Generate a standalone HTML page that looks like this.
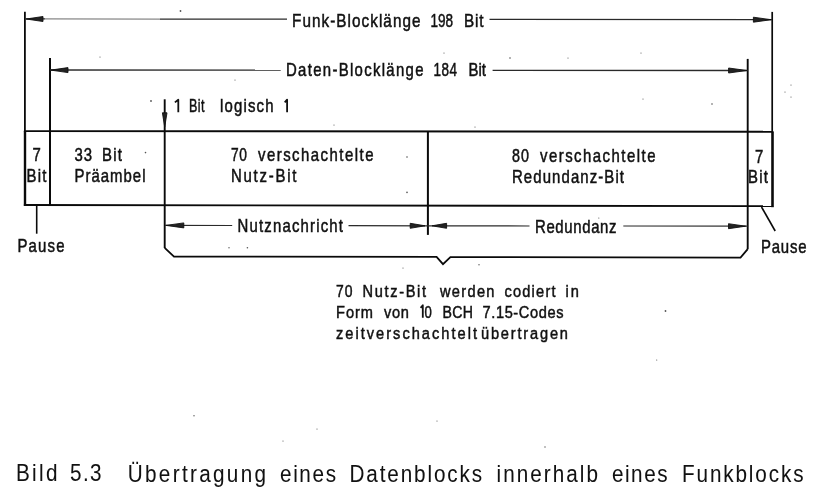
<!DOCTYPE html>
<html><head><meta charset="utf-8">
<style>
html,body{margin:0;padding:0;background:#fff;width:816px;height:492px;overflow:hidden}
svg{display:block;will-change:transform}
text{font-family:"Liberation Sans",sans-serif;fill:#111;stroke:#111;stroke-width:0.5}
text.cap{stroke-width:0.05}
</style></head>
<body>
<svg width="816" height="492" viewBox="0 0 816 492">
<rect width="816" height="492" fill="#fff"/>
<g stroke="#0a0a0a" fill="none" stroke-linecap="butt">
  <line x1="24.9" y1="11.7" x2="24.9" y2="131.5" stroke-width="1.8"/>
  <line x1="25.0" y1="131" x2="25.0" y2="206" stroke-width="2.4"/>
  <line x1="772.2" y1="11.9" x2="772.2" y2="132" stroke-width="1.7"/>
  <line x1="772.5" y1="131.5" x2="772.5" y2="207.2" stroke-width="2.6"/>
  <line x1="50" y1="58" x2="50" y2="205.8" stroke-width="2"/>
  <line x1="747.7" y1="58.9" x2="747.7" y2="249.2" stroke-width="1.9"/>
  <line x1="164.7" y1="99.3" x2="164.7" y2="248" stroke-width="1.9"/>
  <line x1="427.9" y1="131" x2="427.9" y2="234.9" stroke-width="2"/>
  <line x1="23.9" y1="131.1" x2="773.2" y2="131.7" stroke-width="1.9"/>
  <line x1="23.9" y1="205.0" x2="773.2" y2="206.1" stroke-width="1.9"/>
  <polyline points="164.7,247.8 174,256.6 436.6,256.9 443,264.2 450.4,257.1 740.5,257.6 747.7,249.2" stroke-width="1.8" stroke-linejoin="miter"/>
  <line x1="36.7" y1="205" x2="36.7" y2="233.7" stroke-width="1.6"/>
  <line x1="761.5" y1="207" x2="775.2" y2="231" stroke-width="1.6"/>
</g>
<g stroke="#2a2a2a" fill="none">
  <line x1="25" y1="18.9" x2="45" y2="18.95" stroke-width="1.3"/>
  <line x1="45" y1="18.95" x2="160" y2="19.05" stroke-width="1.3" stroke="#888"/>
  <line x1="160" y1="19.05" x2="287" y2="19.2" stroke-width="1.3"/>
  <line x1="489.5" y1="19.4" x2="772" y2="19.7" stroke-width="1.3"/>
  <line x1="50" y1="70.0" x2="280.7" y2="70.2" stroke-width="1.3"/>
  <line x1="492.6" y1="70.3" x2="747.6" y2="70.5" stroke-width="1.3"/>
  <line x1="165" y1="225.4" x2="232.2" y2="225.5" stroke-width="1.2"/>
  <line x1="348.5" y1="225.7" x2="427.9" y2="225.8" stroke-width="1.2"/>
  <line x1="427.9" y1="225.8" x2="529.5" y2="226" stroke-width="1.2"/>
  <line x1="623.3" y1="226" x2="747.6" y2="226.2" stroke-width="1.2"/>
</g>
<g fill="#222" stroke="#111" stroke-width="0.9" stroke-linejoin="round">
  <polygon points="26.2,19.0 43.0,16.5 43.0,21.5"/>
  <polygon points="771.2,19.7 753.4,17.2 753.4,22.2"/>
  <polygon points="50.8,70.1 68.0,67.6 68.0,72.6"/>
  <polygon points="746.8,70.5 728.6,68.0 728.6,73.0"/>
  <polygon points="164.7,127.0 162.39999999999998,112.8 167.0,112.8"/>
  <polygon points="166.0,225.4 183.8,222.9 183.8,227.9"/>
  <polygon points="425.0,225.8 410.2,223.3 410.2,228.3"/>
  <polygon points="432.0,225.8 446.6,223.3 446.6,228.3"/>
  <polygon points="745.6,226.2 728.5,223.7 728.5,228.7"/>
</g>

<g fill="#555">
  <circle cx="180.5" cy="11" r="0.9"/>
  <circle cx="100" cy="57" r="0.6"/>
  <circle cx="235" cy="80" r="0.6"/>
  <circle cx="151" cy="101" r="0.9"/>
  <circle cx="510" cy="58" r="0.8"/>
  <circle cx="444" cy="53" r="0.6"/>
  <circle cx="334" cy="125" r="0.6"/>
  <circle cx="475" cy="127" r="0.6"/>
  <circle cx="568" cy="58" r="0.6"/>
  <circle cx="641" cy="53" r="0.6"/>
  <circle cx="643" cy="99" r="0.6"/>
  <circle cx="712" cy="104" r="0.8"/>
  <circle cx="791" cy="85" r="0.6"/>
  <circle cx="785" cy="92" r="0.6"/>
  <circle cx="791" cy="97" r="0.6"/>
  <circle cx="145.5" cy="152.6" r="0.8"/>
  <circle cx="407" cy="157" r="0.8"/>
  <circle cx="407" cy="192.4" r="0.8"/>
  <circle cx="229" cy="247.8" r="0.7"/>
  <circle cx="247.4" cy="247.8" r="0.8"/>
  <circle cx="403" cy="268" r="0.6"/>
  <circle cx="479" cy="264.7" r="0.7"/>
  <circle cx="598.8" cy="218" r="0.6"/>
  <circle cx="665.5" cy="311" r="0.9"/>
  <circle cx="656.7" cy="360" r="0.6"/>
  <circle cx="194" cy="415.7" r="0.7"/>
  <circle cx="437" cy="421" r="0.6"/>
  <circle cx="317" cy="429" r="0.6"/>
  <circle cx="283" cy="441" r="0.6"/>
  <circle cx="545" cy="447" r="0.7"/>
</g>

<g>
  <text transform="translate(292.00,26.6) scale(0.840,1)" font-size="18.2" textLength="152.98" lengthAdjust="spacing">Funk-Blocklänge</text>
  <text transform="translate(430.50,26.6) scale(0.744,1)" font-size="18.2" textLength="30.26" lengthAdjust="spacing">198</text>
  <text transform="translate(464.00,26.7) scale(0.840,1)" font-size="18.2" textLength="23.21" lengthAdjust="spacing">Bit</text>
  <text transform="translate(286.00,75.6) scale(0.840,1)" font-size="17.8" textLength="163.69" lengthAdjust="spacing">Daten-Blocklänge</text>
  <text transform="translate(433.50,75.6) scale(0.757,1)" font-size="17.8" textLength="31.04" lengthAdjust="spacing">184</text>
  <text transform="translate(468.50,75.6) scale(0.840,1)" font-size="17.8" textLength="20.83" lengthAdjust="spacing">Bit</text>
  <path d="M174.9,102.4 L178.3,99.7 L178.3,112.2" fill="none" stroke="#111" stroke-width="1.8" stroke-linejoin="round"/>
  <text transform="translate(189.00,112.0) scale(0.705,1)" font-size="17.8" textLength="22.00" lengthAdjust="spacing">Bit</text>
  <text transform="translate(220.00,112.0) scale(0.840,1)" font-size="17.8" textLength="63.69" lengthAdjust="spacing">logisch</text>
  <path d="M284.7,102.4 L287.1,99.7 L287.1,112.2" fill="none" stroke="#111" stroke-width="1.8" stroke-linejoin="round"/>
  <text transform="translate(32.50,160.9) scale(0.840,1)" font-size="17.8">7</text>
  <text transform="translate(26.50,182.0) scale(0.840,1)" font-size="17.8" textLength="23.81" lengthAdjust="spacing">Bit</text>
  <text transform="translate(74.50,160.9) scale(0.840,1)" font-size="17.8" textLength="20.83" lengthAdjust="spacing">33</text>
  <text transform="translate(102.00,160.9) scale(0.840,1)" font-size="17.8" textLength="23.81" lengthAdjust="spacing">Bit</text>
  <text transform="translate(74.50,182.0) scale(0.840,1)" font-size="17.8" textLength="84.52" lengthAdjust="spacing">Präambel</text>
  <text transform="translate(231.00,160.9) scale(0.774,1)" font-size="17.8" textLength="20.67" lengthAdjust="spacing">70</text>
  <text transform="translate(258.00,160.9) scale(0.840,1)" font-size="17.8" textLength="137.50" lengthAdjust="spacing">verschachtelte</text>
  <text transform="translate(231.00,182.0) scale(0.840,1)" font-size="17.8" textLength="77.98" lengthAdjust="spacing">Nutz-Bit</text>
  <text transform="translate(512.00,162.0) scale(0.805,1)" font-size="17.8" textLength="21.13" lengthAdjust="spacing">80</text>
  <text transform="translate(540.00,162.0) scale(0.840,1)" font-size="17.8" textLength="137.50" lengthAdjust="spacing">verschachtelte</text>
  <text transform="translate(512.00,183.2) scale(0.840,1)" font-size="17.8" textLength="133.33" lengthAdjust="spacing">Redundanz-Bit</text>
  <text transform="translate(755.00,162.5) scale(0.840,1)" font-size="17.8">7</text>
  <text transform="translate(748.00,183.4) scale(0.840,1)" font-size="17.8" textLength="23.81" lengthAdjust="spacing">Bit</text>
  <text transform="translate(237.50,231.9) scale(0.840,1)" font-size="17.8" textLength="125.60" lengthAdjust="spacing">Nutznachricht</text>
  <text transform="translate(535.00,232.7) scale(0.840,1)" font-size="17.8" textLength="97.02" lengthAdjust="spacing">Redundanz</text>
  <text transform="translate(17.50,251.9) scale(0.840,1)" font-size="17.8" textLength="55.95" lengthAdjust="spacing">Pause</text>
  <text transform="translate(761.00,252.7) scale(0.840,1)" font-size="17.8" textLength="54.17" lengthAdjust="spacing">Pause</text>
  <text transform="translate(336.00,296.5) scale(0.800,1)" font-size="17.4" textLength="20.64" lengthAdjust="spacing">70</text>
  <text transform="translate(362.50,296.5) scale(0.840,1)" font-size="17.4" textLength="75.60" lengthAdjust="spacing">Nutz-Bit</text>
  <text transform="translate(440.00,296.5) scale(0.840,1)" font-size="17.4" textLength="64.88" lengthAdjust="spacing">werden</text>
  <text transform="translate(504.50,296.5) scale(0.840,1)" font-size="17.4" textLength="60.71" lengthAdjust="spacing">codiert</text>
  <text transform="translate(565.50,296.5) scale(0.840,1)" font-size="17.4" textLength="16.07" lengthAdjust="spacing">in</text>
  <text transform="translate(336.00,317.5) scale(0.840,1)" font-size="17.4" textLength="44.05" lengthAdjust="spacing">Form</text>
  <text transform="translate(384.00,317.5) scale(0.840,1)" font-size="17.4" textLength="29.76" lengthAdjust="spacing">von</text>
  <path d="M420.6,307.9 L422.8,305.2 L422.8,317.7" fill="none" stroke="#111" stroke-width="1.8" stroke-linejoin="round"/>
  <text transform="translate(424.50,317.5) scale(0.754,1)" font-size="17.4">0</text>
  <text transform="translate(442.50,317.5) scale(0.812,1)" font-size="17.4" textLength="37.56" lengthAdjust="spacing">BCH</text>
  <text transform="translate(482.50,317.5) scale(0.840,1)" font-size="17.4" textLength="96.43" lengthAdjust="spacing">7.15-Codes</text>
  <text transform="translate(336.00,338.8) scale(0.840,1)" font-size="17.4" textLength="167.86" lengthAdjust="spacing">zeitverschachtelt</text>
  <text transform="translate(481.00,338.8) scale(0.840,1)" font-size="17.4" textLength="103.57" lengthAdjust="spacing">übertragen</text>
  <text class="cap" transform="translate(16.00,481.3) scale(0.880,1)" font-size="23.5" textLength="47.16" lengthAdjust="spacing">Bild</text>
  <text class="cap" transform="translate(70.00,481.4) scale(0.880,1)" font-size="23.5" textLength="35.80" lengthAdjust="spacing">5.3</text>
  <text class="cap" transform="translate(127.75,481.5) scale(0.880,1)" font-size="23.5" textLength="157.10" lengthAdjust="spacing">Übertragung</text>
  <text class="cap" transform="translate(280.00,481.7) scale(0.880,1)" font-size="23.5" textLength="63.64" lengthAdjust="spacing">eines</text>
  <text class="cap" transform="translate(349.50,481.7) scale(0.880,1)" font-size="23.5" textLength="150.57" lengthAdjust="spacing">Datenblocks</text>
  <text class="cap" transform="translate(496.50,481.9) scale(0.880,1)" font-size="23.5" textLength="115.34" lengthAdjust="spacing">innerhalb</text>
  <text class="cap" transform="translate(612.00,482.1) scale(0.880,1)" font-size="23.5" textLength="63.07" lengthAdjust="spacing">eines</text>
  <text class="cap" transform="translate(682.00,482.2) scale(0.880,1)" font-size="23.5" textLength="138.07" lengthAdjust="spacing">Funkblocks</text>
</g>
</svg>
</body></html>
